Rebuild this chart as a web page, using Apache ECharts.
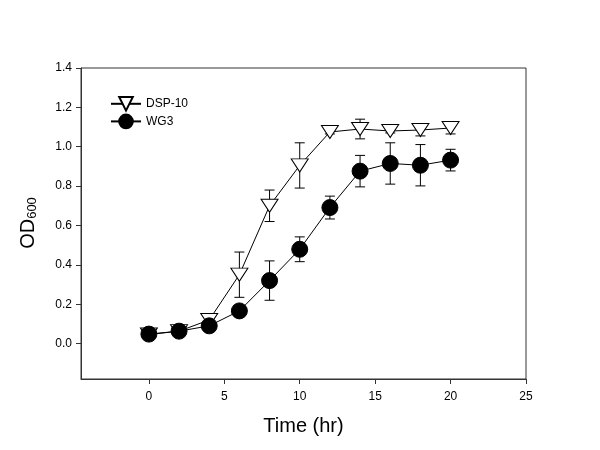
<!DOCTYPE html>
<html>
<head>
<meta charset="utf-8">
<script src="https://cdn.jsdelivr.net/npm/echarts@6/dist/echarts.min.js"></script>
<style>html,body{margin:0;padding:0;background:#fff}#c{width:600px;height:450px}</style>
</head>
<body>
<div id="c"></div>
<script>
var times = [0, 2, 4, 6, 8, 10, 12, 14, 16, 18, 20];
var dspMean = [0.046, 0.063, 0.12, 0.35, 0.70, 0.905, 1.075, 1.09, 1.08, 1.085, 1.095];
var dspErr  = [0.01, 0.01, 0.01, 0.115, 0.08, 0.115, 0.01, 0.05, 0.01, 0.03, 0.03];
var wgMean  = [0.048, 0.063, 0.09, 0.166, 0.32, 0.479, 0.691, 0.876, 0.915, 0.906, 0.932];
var wgErr   = [0.02, 0.01, 0.01, 0.01, 0.10, 0.063, 0.058, 0.08, 0.105, 0.105, 0.055];
var yTicks = [0, 0.2, 0.4, 0.6, 0.8, 1.0, 1.2, 1.4];
var xTicks = [0, 5, 10, 15, 20, 25];

function pts(m) { return times.map(function (t, i) { return [t, m[i]]; }); }
function errs(m, e) { return times.map(function (t, i) { return [t, m[i] - e[i], m[i] + e[i]]; }); }

function renderErr(params, api) {
  var x = api.value(0);
  var lo = api.coord([x, api.value(1)]);
  var hi = api.coord([x, api.value(2)]);
  var w = 5;
  var st = { stroke: '#000', lineWidth: 1 };
  return {
    type: 'group',
    children: [
      { type: 'line', shape: { x1: hi[0], y1: hi[1], x2: lo[0], y2: lo[1] }, style: st },
      { type: 'line', shape: { x1: hi[0] - w, y1: hi[1], x2: hi[0] + w, y2: hi[1] }, style: st },
      { type: 'line', shape: { x1: lo[0] - w, y1: lo[1], x2: lo[0] + w, y2: lo[1] }, style: st }
    ]
  };
}

var tri = 'path://M0,0 L20,0 L10,16 Z';
var font = '"Liberation Sans", Arial, sans-serif';
var chart = echarts.init(document.getElementById('c'), null, { renderer: 'canvas' });
chart.setOption({
  animation: false,
  backgroundColor: '#fff',
  textStyle: { fontFamily: font },
  grid: { left: 81, top: 68, right: 74, bottom: 71, show: true, borderColor: '#333', borderWidth: 1 },
  legend: {
    left: 105, top: 91, orient: 'vertical', itemWidth: 30, itemHeight: 17, itemGap: 2,
    textStyle: { fontFamily: font, fontSize: 12, color: '#000' },
    data: ['DSP-10', 'WG3']
  },
  xAxis: {
    type: 'value', min: -4.5, max: 25,
    axisLine: { show: true, onZero: false, lineStyle: { color: '#333' } },
    axisTick: { show: true, length: 5, lineStyle: { color: '#333' }, customValues: xTicks },
    axisLabel: { color: '#000', fontSize: 12, margin: 12, fontFamily: font, customValues: xTicks },
    splitLine: { show: false },
    name: 'Time (hr)', nameLocation: 'middle', nameGap: 37,
    nameTextStyle: { fontSize: 20, color: '#000', fontFamily: font }
  },
  yAxis: {
    type: 'value', min: -0.18, max: 1.4,
    axisLine: { show: true, onZero: false, lineStyle: { color: '#333' } },
    axisTick: { show: true, length: 5, lineStyle: { color: '#333' }, customValues: yTicks },
    axisLabel: { color: '#000', fontSize: 12, margin: 9, fontFamily: font, customValues: yTicks,
      formatter: function (v) { return v.toFixed(1); } },
    splitLine: { show: false }
  },
  graphic: [{
    type: 'text', x: 28, y: 223, rotation: Math.PI / 2,
    style: {
      text: '{a|OD}{b|600}', fill: '#000', align: 'center', verticalAlign: 'middle',
      rich: {
        a: { fontSize: 20, fontFamily: font, fill: '#000' },
        b: { fontSize: 13, fontFamily: font, fill: '#000', padding: [8, 0, 0, 0] }
      }
    }
  }],
  series: [
    { name: 'dspErr', type: 'custom', renderItem: renderErr, data: errs(dspMean, dspErr), z: 1, silent: true },
    { name: 'wgErr', type: 'custom', renderItem: renderErr, data: errs(wgMean, wgErr), z: 1, silent: true },
    { name: 'DSP-10', type: 'line', data: pts(dspMean), symbol: tri, symbolSize: [17, 13],
      lineStyle: { color: '#000', width: 1 }, itemStyle: { color: '#fff', borderColor: '#000', borderWidth: 1 }, z: 2 },
    { name: 'WG3', type: 'line', data: pts(wgMean), symbol: 'circle', symbolSize: 16,
      lineStyle: { color: '#000', width: 1 }, itemStyle: { color: '#000', borderColor: '#000', borderWidth: 1 }, z: 3 }
  ]
});
</script>
</body>
</html>
